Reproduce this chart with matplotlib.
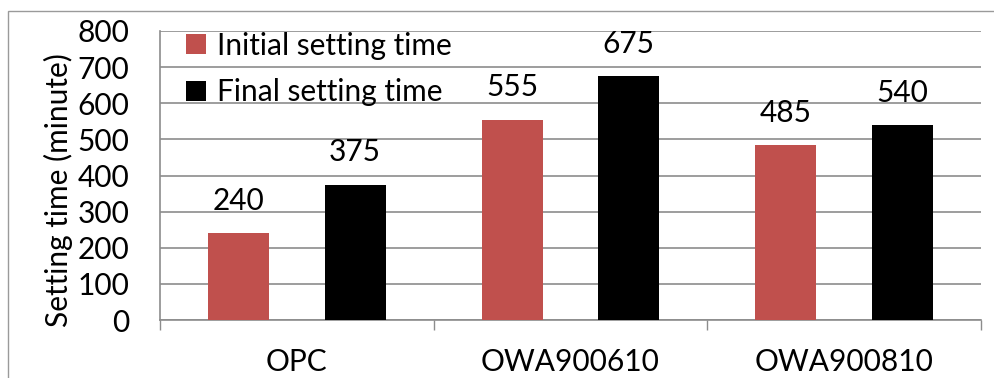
import matplotlib
matplotlib.use('Agg')
import matplotlib.pyplot as plt
from matplotlib.patches import Patch, Rectangle
import numpy as np

plt.rcParams['font.family'] = ['Lato', 'DejaVu Sans']

# Setting times per mix
categories = ["OPC", "OWA900610", "OWA900810"]
initial_setting = [240, 555, 485]
final_setting = [375, 675, 540]
series_names = ["Initial setting time", "Final setting time"]
y_ticks = [0, 100, 200, 300, 400, 500, 600, 700, 800]

red = "#C0504D"
black = "#000000"
grid_gray = "#8C8C8C"
fs = 21.5

fig = plt.figure(figsize=(9.94, 3.78), dpi=100)
ax = fig.add_axes([160 / 994, 1 - 320 / 378, 821 / 994, 289 / 378])

# Thin outer chart frame
fig.patches.append(Rectangle((8 / 994, -0.2), 1.2, 1.2 - 11 / 378,
                             transform=fig.transFigure, fill=False,
                             edgecolor="#9A9A9A", linewidth=1.0))

x = np.arange(len(categories))
width = 0.222
offset = 0.213

bars1 = ax.bar(x - offset, initial_setting, width, color=red, zorder=3)
bars2 = ax.bar(x + offset, final_setting, width, color=black, zorder=3)

for bars, vals in ((bars1, initial_setting), (bars2, final_setting)):
    for b, v in zip(bars, vals):
        ax.annotate(f"{v}", (b.get_x() + b.get_width() / 2, v),
                    xytext=(0, 13), textcoords="offset points",
                    ha="center", va="bottom", fontsize=fs)

ax.set_xlim(-0.5, len(categories) - 0.5)
ax.set_ylim(0, 800)
ax.set_yticks(y_ticks)
ax.set_xticks(x)
ax.set_xticklabels(categories)
ax.set_xticks(np.arange(len(categories) + 1) - 0.5, minor=True)

ax.tick_params(axis="x", which="major", length=0, pad=20, labelsize=fs)
ax.tick_params(axis="x", which="minor", length=7, color=grid_gray, width=1)
ax.tick_params(axis="y", length=0, pad=22, labelsize=fs)

ax.grid(axis="y", color=grid_gray, linewidth=1.2, zorder=0)
ax.set_axisbelow(True)

for side in ("top", "right"):
    ax.spines[side].set_visible(False)
for side in ("left", "bottom"):
    ax.spines[side].set_color(grid_gray)
    ax.spines[side].set_linewidth(1.2)

ax.set_ylabel("Setting time (minute)", fontsize=fs)
ax.yaxis.set_label_coords(-0.106, 0.45)

handles = [Patch(facecolor=red), Patch(facecolor=black)]
ax.legend(handles, series_names, loc="upper left", bbox_to_anchor=(0.01, 1.06),
          frameon=False, fontsize=fs, handlelength=0.65, handleheight=0.65,
          handletextpad=0.4, labelspacing=0.62, borderaxespad=0.2)

fig.savefig("out.png", dpi=100)
